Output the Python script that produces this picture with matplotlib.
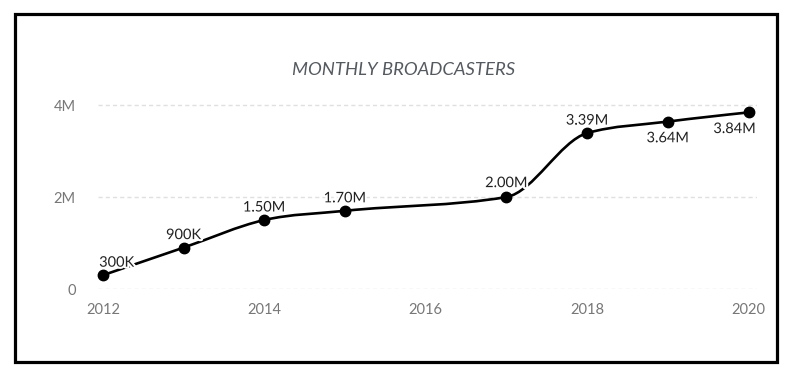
import numpy as np
import matplotlib
matplotlib.use("Agg")
from matplotlib import pyplot as plt
from matplotlib.path import Path
from matplotlib.patches import PathPatch, Rectangle
import matplotlib.patheffects as pe

plt.rcParams["font.family"] = ["Lato", "DejaVu Sans"]

years = [2012, 2013, 2014, 2015, 2017, 2018, 2019, 2020]
broadcasters = [0.30e6, 0.90e6, 1.50e6, 1.70e6, 2.00e6, 3.39e6, 3.64e6, 3.84e6]
labels = ["300K", "900K", "1.50M", "1.70M", "2.00M", "3.39M", "3.64M", "3.84M"]
x_ticks = [2012, 2014, 2016, 2018, 2020]
y_ticks = [0, 2e6, 4e6]
y_tick_labels = ["0", "2M", "4M"]

# label offsets in points (dx, dy)
label_offsets = [(10, 9), (0, 9), (0, 9), (0, 9), (0, 10), (0, 9), (0, -12), (-10, -12)]


def monotone_path(x, y):
    # smooth monotone curve (like d3 curveMonotoneX) as bezier segments
    x = np.asarray(x, float)
    y = np.asarray(y, float)
    n = len(x)
    h = np.diff(x)
    s = np.diff(y) / h
    t = np.zeros(n)
    for i in range(1, n - 1):
        p = (s[i - 1] * h[i] + s[i] * h[i - 1]) / (h[i - 1] + h[i])
        t[i] = (np.sign(s[i - 1]) + np.sign(s[i])) * min(abs(s[i - 1]), abs(s[i]), 0.5 * abs(p))
    t[0] = (3 * s[0] - t[1]) / 2
    t[-1] = (3 * s[-1] - t[-2]) / 2
    verts = [(x[0], y[0])]
    codes = [Path.MOVETO]
    for i in range(n - 1):
        dx = h[i] / 3
        verts += [(x[i] + dx, y[i] + dx * t[i]),
                  (x[i + 1] - dx, y[i + 1] - dx * t[i + 1]),
                  (x[i + 1], y[i + 1])]
        codes += [Path.CURVE4] * 3
    return Path(verts, codes)


fig = plt.figure(figsize=(7.89, 3.87), dpi=100)
fig.patches.append(Rectangle((0.019, 0.065), 0.966, 0.899, transform=fig.transFigure,
                             fill=False, edgecolor="black", linewidth=2.3))

ax = fig.add_axes([0.124, 0.2532, 0.835, 0.4873])
ax.set_xlim(2011.938, 2020.1)
ax.set_ylim(0, 4.1e6)

ax.add_patch(PathPatch(monotone_path(years, broadcasters), facecolor="none",
                       edgecolor="black", linewidth=1.9, zorder=3))
ax.plot(years, broadcasters, "o", color="black", markersize=7.5, zorder=4, clip_on=False)

for xv, yv, lab, (dx, dy) in zip(years, broadcasters, labels, label_offsets):
    ax.annotate(lab, (xv, yv), xytext=(dx, dy), textcoords="offset points",
                ha="center", va="center", fontsize=10.5, color="#222222", zorder=5,
                path_effects=[pe.withStroke(linewidth=3, foreground="white")])

ax.set_xticks(x_ticks)
ax.set_yticks(y_ticks)
ax.set_yticklabels(y_tick_labels)
ax.tick_params(length=0, labelsize=10.5, labelcolor="#777777")
ax.tick_params(axis="y", pad=16)
ax.tick_params(axis="x", pad=10)
for sp in ax.spines.values():
    sp.set_visible(False)
ax.grid(axis="y", color="#e0e0e0", linewidth=1, linestyle=(0, (3, 2.2)))
ax.set_axisbelow(True)

fig.text(0.511, 0.818, "MONTHLY BROADCASTERS", ha="center", va="center",
         fontsize=13.3, style="italic", color="#555a60")

fig.savefig("out.png", dpi=100)
